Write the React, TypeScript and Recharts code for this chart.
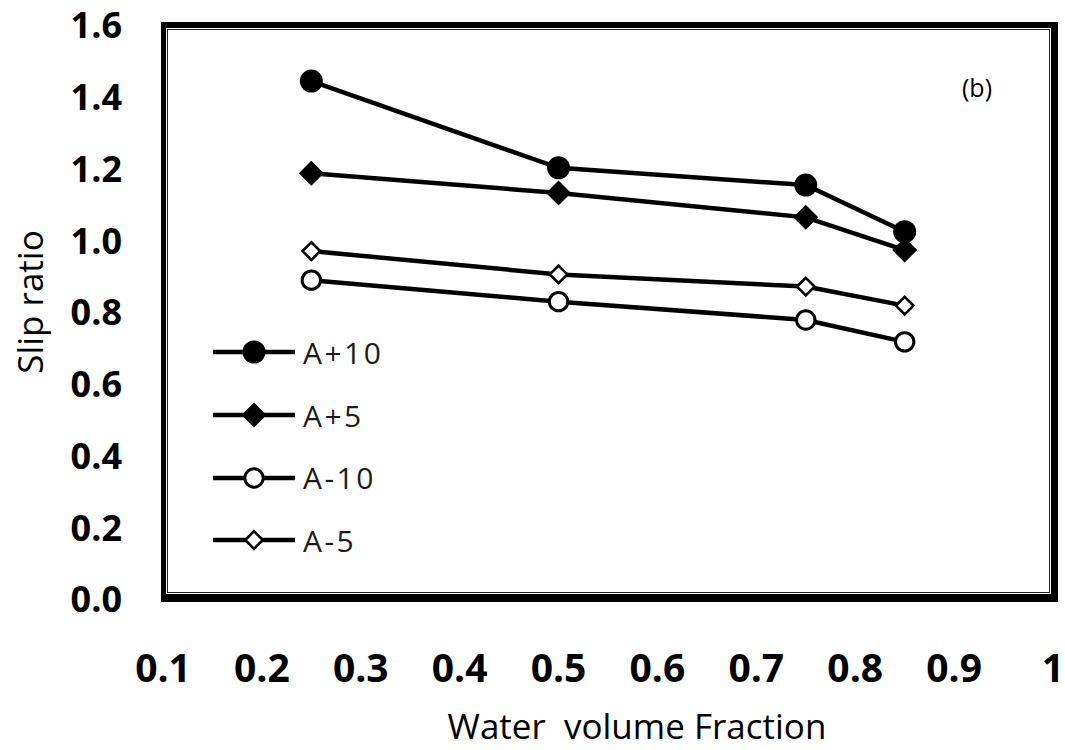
import { LineChart, Line, XAxis, YAxis } from 'recharts'

// water volume fraction (x) and slip ratio per series
const xValues = [0.25, 0.5, 0.75, 0.85]
const aPlus10 = [1.441, 1.199, 1.151, 1.021]
const aPlus5 = [1.184, 1.129, 1.061, 0.97]
const aMinus10 = [0.886, 0.826, 0.775, 0.714]
const aMinus5 = [0.967, 0.902, 0.868, 0.815]

const xTicks = [0.1, 0.2, 0.3, 0.4, 0.5, 0.6, 0.7, 0.8, 0.9, 1]
const yTicks = [0, 0.2, 0.4, 0.6, 0.8, 1.0, 1.2, 1.4, 1.6]

const FONT = "'Open Sans', sans-serif"

type MarkerKind = 'dot' | 'diamond' | 'ring' | 'openDiamond'

const series: { name: string; values: number[]; marker: MarkerKind }[] = [
  { name: 'A+10', values: aPlus10, marker: 'dot' },
  { name: 'A+5', values: aPlus5, marker: 'diamond' },
  { name: 'A-10', values: aMinus10, marker: 'ring' },
  { name: 'A-5', values: aMinus5, marker: 'openDiamond' },
]

const toRows = (values: number[]) => xValues.map((x, i) => ({ x, y: values[i] }))

function diamond(cx: number, cy: number, r: number) {
  return `M${cx},${cy - r}L${cx + r},${cy}L${cx},${cy + r}L${cx - r},${cy}Z`
}

function Marker({ kind, cx, cy }: { kind: MarkerKind; cx: number; cy: number }) {
  if (kind === 'dot') return <circle cx={cx} cy={cy} r={11.5} fill="#000" />
  if (kind === 'diamond') return <path d={diamond(cx, cy, 12.5)} fill="#000" />
  if (kind === 'ring') return <circle cx={cx} cy={cy} r={9.2} fill="#fff" stroke="#000" strokeWidth={3} />
  return <path d={diamond(cx, cy, 8.8)} fill="#fff" stroke="#000" strokeWidth={2.6} />
}

function LegendBox() {
  return (
    <div style={{ position: 'absolute', left: 213, top: 321, fontFamily: FONT }}>
      {series.map((s) => (
        <div key={s.name} style={{ display: 'flex', alignItems: 'center', height: 62.7 }}>
          <svg width={84} height={30}>
            <line x1={0} y1={15} x2={82} y2={15} stroke="#000" strokeWidth={4.5} />
            <Marker kind={s.marker} cx={41} cy={15} />
          </svg>
          <span style={{ fontSize: 30, color: '#1a1a1a', marginLeft: 6, letterSpacing: 2.5 }}>{s.name}</span>
        </div>
      ))}
    </div>
  )
}

export default function App() {
  return (
    <div style={{ position: 'absolute', left: 0, top: 0, width: 1065, height: 750, background: '#fff' }}>
      {/* plot frame: thick outer line with a thin inner line */}
      <div
        style={{
          position: 'absolute',
          left: 161,
          top: 22,
          width: 897,
          height: 580,
          boxSizing: 'border-box',
          borderStyle: 'solid',
          borderColor: '#000',
          borderWidth: '6px 7px 8px 5px',
        }}
      >
        <div style={{ position: 'absolute', left: 1, top: 1, right: 1, bottom: 1, border: '1.5px solid #222' }} />
      </div>
      <div style={{ position: 'absolute', left: 0, top: 0 }}>
        <LineChart width={1065} height={750} margin={{ top: 24, right: 12, left: 0, bottom: 0 }}>
          <XAxis
            type="number"
            dataKey="x"
            domain={[0.1, 1]}
            ticks={xTicks}
            interval={0}
            axisLine={false}
            tickLine={false}
            height={152}
            tickMargin={50}
            tickFormatter={(v: number) => String(v)}
            tick={{ fill: '#000', fontSize: 39, fontWeight: 700, fontFamily: FONT }}
            label={() => (
              <text
                x={637}
                y={739}
                textAnchor="middle"
                fill="#000"
                fontSize={35}
                fontWeight={500}
                fontFamily={FONT}
                style={{ whiteSpace: 'pre' }}
              >
                {'Water  volume Fraction'}
              </text>
            )}
          />
          <YAxis
            type="number"
            domain={[0, 1.6]}
            ticks={yTicks}
            interval={0}
            axisLine={false}
            tickLine={false}
            width={163}
            tickMargin={35}
            tickFormatter={(v: number) => v.toFixed(1)}
            tick={{ fill: '#000', fontSize: 36, fontWeight: 700, fontFamily: FONT, dy: 1.5 }}
            label={() => (
              <text
                x={43}
                y={302}
                transform="rotate(-90, 43, 302)"
                textAnchor="middle"
                fill="#000"
                fontSize={35}
                fontWeight={500}
                fontFamily={FONT}
              >
                Slip ratio
              </text>
            )}
          />
          {series.map((s) => (
            <Line
              key={s.name}
              name={s.name}
              data={toRows(s.values)}
              dataKey="y"
              type="linear"
              stroke="#000"
              strokeWidth={4.5}
              isAnimationActive={false}
              dot={(p: any) => <Marker key={`${s.name}-${p.index}`} kind={s.marker} cx={p.cx} cy={p.cy} />}
              activeDot={false}
            />
          ))}
        </LineChart>
      </div>
      <LegendBox />
      <div
        style={{
          position: 'absolute',
          left: 962,
          top: 70,
          fontFamily: FONT,
          fontSize: 25,
          lineHeight: '34px',
          color: '#000',
        }}
      >
        (b)
      </div>
    </div>
  )
}
